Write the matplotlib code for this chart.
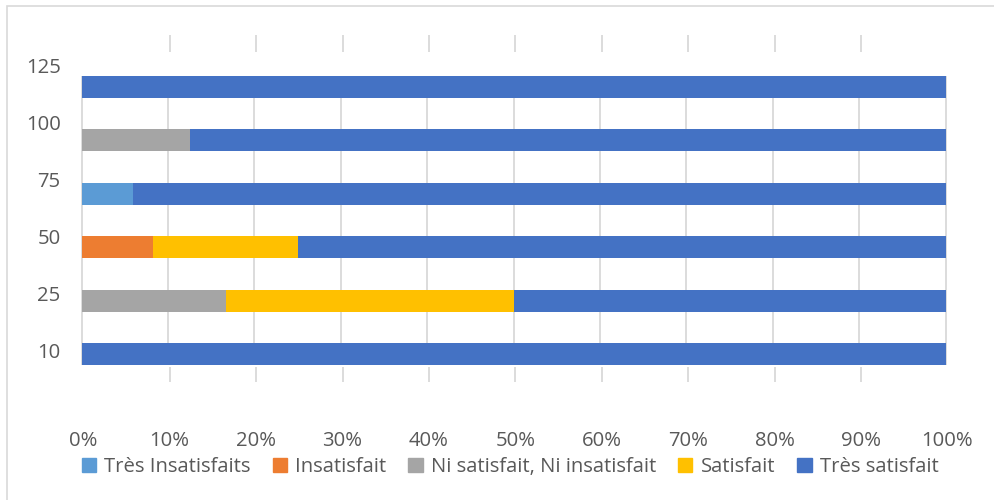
import matplotlib.pyplot as plt
import matplotlib.patches as mpatches
import numpy as np

plt.rcParams['font.family'] = ['Open Sans', 'DejaVu Sans']

# survey answers per group, share of respondents in %
groups = ['10', '25', '50', '75', '100', '125']
tres_insatisfaits = [0, 0, 0, 6, 0, 0]
insatisfait = [0, 0, 8.33, 0, 0, 0]
ni_ni = [0, 16.67, 0, 0, 12.5, 0]
satisfait = [0, 33.33, 16.67, 0, 0, 0]
tres_satisfait = [100, 50, 75, 94, 87.5, 100]

series = [
    ('Très Insatisfaits', tres_insatisfaits, '#5B9BD5'),
    ('Insatisfait', insatisfait, '#ED7D31'),
    ('Ni satisfait, Ni insatisfait', ni_ni, '#A5A5A5'),
    ('Satisfait', satisfait, '#FFC000'),
    ('Très satisfait', tres_satisfait, '#4472C4'),
]

TXT = '#595959'
GRID = '#d9d9d9'
FS = 14.6
BAR_H = 0.41

fig = plt.figure(figsize=(9.94, 5.0), dpi=100)
ax = fig.add_axes([81.5 / 994, 1 - 425 / 500, 866 / 994, 395 / 500])

y = np.arange(len(groups))
left = np.zeros(len(groups))
handles = []
for name, vals, col in series:
    vals = np.array(vals, dtype=float)
    ax.barh(y, vals, left=left, height=BAR_H, color=col, zorder=3)
    left += vals
    handles.append(mpatches.Patch(color=col, label=name))

# gridlines only between the bars, plus the small stubs above and below
lo, hi = -BAR_H / 2, len(groups) - 1 + BAR_H / 2
ax.vlines(np.arange(0, 101, 10), lo, hi, color=GRID, lw=1.3, zorder=1, clip_on=False)
ax.vlines(np.arange(10, 100, 10) + 0.2, 5.66, 5.97, color=GRID, lw=1.3, zorder=1)
ax.vlines(np.arange(10, 100, 10) + 0.2, -0.52, -0.24, color=GRID, lw=1.3, zorder=1)

ax.set_xlim(0, 100)
ax.set_ylim(-1.33, 6.067)
ax.set_xticks(np.arange(0, 101, 10) + 0.2)
ax.set_xticklabels([f'{v}%' for v in range(0, 101, 10)])
ax.set_yticks(np.arange(len(groups)) * 1.067 + 0.06)
ax.set_yticklabels(groups)
ax.tick_params(axis='both', length=0, labelsize=FS, colors=TXT)
ax.tick_params(axis='x', pad=4)
ax.tick_params(axis='y', pad=15)
for s in ax.spines.values():
    s.set_visible(False)

fig.legend(handles=handles, loc='center', ncol=5, frameon=False,
           bbox_to_anchor=(510 / 994, 1 - 467 / 500), fontsize=FS,
           labelcolor=TXT, handlelength=0.7, handleheight=0.7,
           handletextpad=0.4, columnspacing=1.1)

fig.patches.append(mpatches.Rectangle((7 / 994, -0.1), 1.1, 1.0 - 5.5 / 500 + 0.1,
                                      transform=fig.transFigure, fill=False,
                                      edgecolor=GRID, lw=1.2))

fig.savefig('out.png', dpi=100)
